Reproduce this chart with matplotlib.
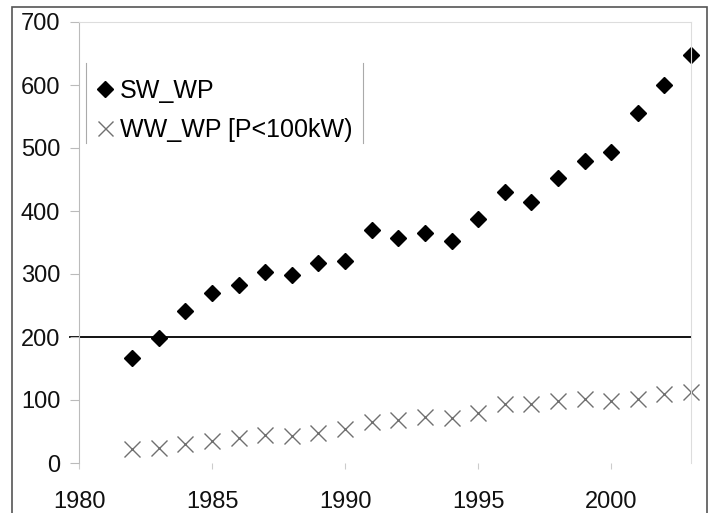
import matplotlib.pyplot as plt
from matplotlib.lines import Line2D
from matplotlib.patches import Rectangle

plt.rcParams['font.family'] = ['Liberation Sans', 'DejaVu Sans']

# data
years = list(range(1982, 2004))
sw_wp = [166, 199, 242, 270, 283, 303, 299, 318, 321, 370, 357,
         365, 352, 387, 430, 414, 453, 480, 493, 555, 600, 648]
ww_wp = [22, 24, 30, 35, 39, 44, 43, 47, 54, 65, 68,
         73, 71, 80, 93, 93, 98, 101, 98, 102, 110, 113]
x_ticks = [1980, 1985, 1990, 1995, 2000]
y_ticks = [0, 100, 200, 300, 400, 500, 600, 700]
labels = ['SW_WP', 'WW_WP [P<100kW)']

fig = plt.figure(figsize=(7.12, 5.13), dpi=100)
ax = fig.add_axes([79/712, 50/513, 612/712, 441/513])

ax.plot(years, sw_wp, ls='none', marker='D', ms=8.5, color='black',
        label=labels[0], clip_on=False)
ax.plot(years, ww_wp, ls='none', marker='x', ms=12, mew=1.0,
        color='#707070', label=labels[1], clip_on=False)

# black line at 200 (runs through the tick too)
ax.plot([1979.65, 2003], [200, 200], color='black', lw=1.3,
        clip_on=False, zorder=1)

ax.set_xlim(1980, 2003)
ax.set_ylim(0, 700)
ax.set_xticks(x_ticks)
ax.set_yticks(y_ticks)

for side in ['top', 'right']:
    ax.spines[side].set_color('#dddddd')
    ax.spines[side].set_linewidth(0.8)
ax.spines['left'].set_color('#bbbbbb')
ax.spines['left'].set_linewidth(0.8)
ax.spines['bottom'].set_visible(False)

ax.tick_params(axis='y', length=6.5, width=0.8, color='#bbbbbb', pad=7,
               labelsize=17, labelcolor='#111111')
ax.tick_params(axis='x', length=4, width=0.8, color='#cccccc', pad=16.5,
               labelsize=17, labelcolor='#111111')

leg = ax.legend(loc='upper left', bbox_to_anchor=(8/612, 1 - 47/441),
                frameon=False, fontsize=18, handlelength=0.6,
                handletextpad=0.3, borderaxespad=0, labelspacing=0.6,
                markerscale=0.9)

# only the vertical sides of the legend box are visible
for xp in (86, 363):
    fig.add_artist(Line2D([xp/712, xp/712], [1 - 63/513, 1 - 143/513],
                          color='#aaaaaa', lw=0.8))

# outer frame of the picture
fig.add_artist(Rectangle((12/712, -0.05), 695/712, 1.05 - 7/513,
                         transform=fig.transFigure, fill=False,
                         edgecolor='#555555', lw=1.2))

fig.savefig('out.png', dpi=100)
